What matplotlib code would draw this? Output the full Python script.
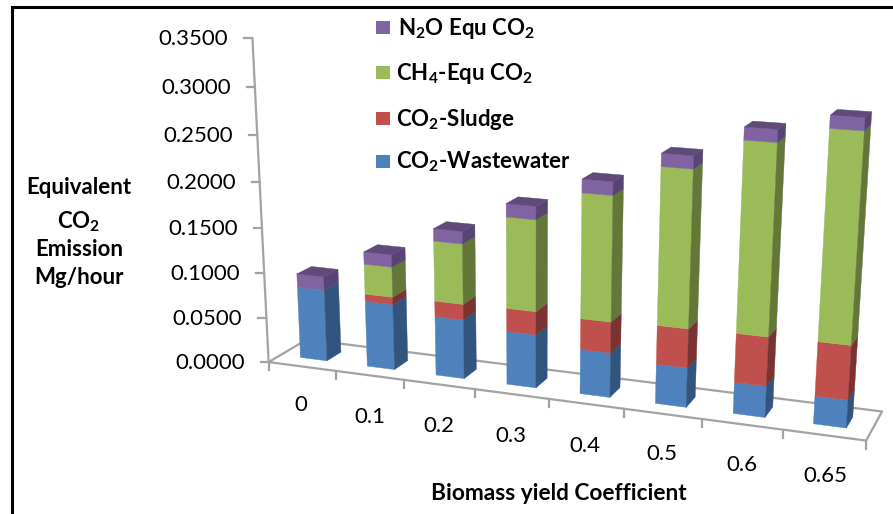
import numpy as np
import matplotlib
matplotlib.use('Agg')
import matplotlib.pyplot as plt
from matplotlib.patches import Polygon, Rectangle

plt.rcParams['font.family'] = ['Lato', 'DejaVu Sans']
plt.rcParams['mathtext.fontset'] = 'custom'
plt.rcParams['mathtext.rm'] = 'Lato'
plt.rcParams['mathtext.bf'] = 'Lato:bold'

categories = ['0', '0.1', '0.2', '0.3', '0.4', '0.5', '0.6', '0.65']
wastewater = [0.080, 0.073, 0.065, 0.058, 0.048, 0.042, 0.033, 0.029]
sludge = [0.000, 0.008, 0.017, 0.025, 0.033, 0.041, 0.051, 0.056]
ch4 = [0.000, 0.033, 0.065, 0.097, 0.131, 0.162, 0.193, 0.209]
n2o = [0.015, 0.0135, 0.0133, 0.014, 0.014, 0.0132, 0.0127, 0.0125]
y_ticks = [0.0, 0.05, 0.10, 0.15, 0.20, 0.25, 0.30, 0.35]

series = [wastewater, sludge, ch4, n2o]
front_cols = ['#4F81BD', '#C0504D', '#9BBB59', '#8064A2']
side_cols = ['#31557F', '#7A3331', '#637738', '#574374']
top_col = '#5F4A7A'
axis_col = '#A3A3A3'

# fake Excel 3D view: camera matrix from (category, depth, value) to pixels
# fitted on the axis ticks and floor corners seen in the picture
world = [(i, 0, 0) for i in range(9)] + [(8, 1, 0), (0, 1, 0)]
pixel = [(269, 362), (336, 372), (404, 381), (475, 390), (548, 399), (624, 409), (702, 419), (783, 429), (867, 439),
         (882, 412), (307, 339)]
world += [(0, 0, t) for t in y_ticks[1:]] + [(8, 0, 0.35)]
pixel += [(267, 318), (264, 273), (262, 228), (260, 181), (257, 134), (255, 87), (252, 39), (890, 77)]
rows = []
for (a, b, c), (u, v) in zip(world, pixel):
    a, b, c, u, v = a / 8, b, c * 3, u / 1000, v / 1000
    rows.append([a, b, c, 1, 0, 0, 0, 0, -u*a, -u*b, -u*c, -u])
    rows.append([0, 0, 0, 0, a, b, c, 1, -v*a, -v*b, -v*c, -v])
cam = np.linalg.svd(np.array(rows))[2][-1].reshape(3, 4)


def proj(c, d, v):
    p = cam @ np.array([c / 8, d, v * 3, 1.0])
    return 1000 * p[0] / p[2], 1000 * p[1] / p[2]


fig = plt.figure(figsize=(8.93, 5.14), dpi=100)
ax = fig.add_axes([0, 0, 1, 1])
ax.set_xlim(0, 893)
ax.set_ylim(514, 0)
ax.axis('off')

# outer frame, only top and left are in the picture
ax.plot([12, 12, 893], [514, 7, 7], color='black', lw=2.2, solid_joinstyle='miter')

# floor and value axis
corners = [(0, 0), (8, 0), (8, 1), (0, 1), (0, 0)]
pts = [proj(c, d, 0) for c, d in corners]
ax.plot([p[0] for p in pts], [p[1] for p in pts], color=axis_col, lw=1.6)
top = proj(0, 0, 0.35)
bot = proj(0, 0, 0)
ax.plot([top[0], bot[0]], [top[1], bot[1]], color=axis_col, lw=1.6)
for t in y_ticks:
    x, y = proj(0, 0, t)
    ax.plot([x - 8, x], [y, y], color=axis_col, lw=1.6)
    ax.text(x - 24, y + 1, '%.4f' % t, ha='right', va='center', fontsize=16, color='black')
for i in range(9):
    x, y = proj(i, 0, 0)
    ax.plot([x, x], [y, y + 8], color=axis_col, lw=1.6)

# category labels
label_x = [301, 370, 439, 511, 585, 662, 742, 825]
label_y = [405, 417, 426, 436, 446, 454, 465, 476]
for name, x, y in zip(categories, label_x, label_y):
    ax.text(x, y, name, ha='center', va='center', fontsize=16, color='black')

# bars, left to right and bottom to top
w = 0.40
d0, d1 = 0.31, 0.69
for i in range(len(categories)):
    c0 = i + 0.30
    c1 = c0 + w
    base = 0.0
    for k, vals in enumerate(series):
        h = vals[i]
        if h > 0:
            ax.add_patch(Polygon([proj(c0, d0, base), proj(c1, d0, base), proj(c1, d0, base + h), proj(c0, d0, base + h)],
                                 facecolor=front_cols[k], edgecolor=front_cols[k], lw=0.3, zorder=3))
            ax.add_patch(Polygon([proj(c1, d0, base), proj(c1, d1, base), proj(c1, d1, base + h), proj(c1, d0, base + h)],
                                 facecolor=side_cols[k], edgecolor=side_cols[k], lw=0.3, zorder=3))
        base += h
    ax.add_patch(Polygon([proj(c0, d0, base), proj(c1, d0, base), proj(c1, d1, base), proj(c0, d1, base)],
                         facecolor=top_col, edgecolor=top_col, lw=0.3, zorder=3))

# legend by hand
legend_names = [r'N$_{\mathbf{2}}$O Equ CO$_{\mathbf{2}}$', r'CH$_{\mathbf{4}}$-Equ CO$_{\mathbf{2}}$',
                r'CO$_{\mathbf{2}}$-Sludge', r'CO$_{\mathbf{2}}$-Wastewater']
legend_cols = ['#8064A2', '#9BBB59', '#C0504D', '#4F81BD']
legend_y = [27.5, 72.5, 118, 161]
legend_x = [398, 396, 396, 396]
for name, col, x, y in zip(legend_names, legend_cols, legend_x, legend_y):
    ax.add_patch(Rectangle((376, y - 6.5), 14, 13, facecolor=col, edgecolor='none'))
    ax.text(x, y + 1, name, ha='left', va='center', fontsize=16, fontweight='bold', color='black')

# axis titles
ax.text(79, 188, 'Equivalent', ha='center', va='center', fontsize=16, fontweight='bold')
ax.text(79, 222, r'CO$_{\mathbf{2}}$', ha='center', va='center', fontsize=16, fontweight='bold')
ax.text(79, 249, 'Emission', ha='center', va='center', fontsize=16, fontweight='bold')
ax.text(79, 278, 'Mg/hour', ha='center', va='center', fontsize=16, fontweight='bold')
ax.text(559, 494, 'Biomass yield Coefficient', ha='center', va='center', fontsize=16.3, fontweight='bold')

fig.savefig('out.png', dpi=100)
